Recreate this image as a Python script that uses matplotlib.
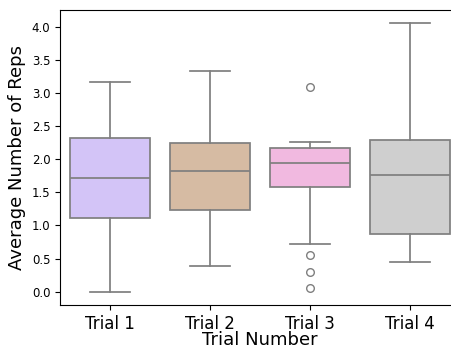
import colorsys
import matplotlib
matplotlib.use("Agg")
from matplotlib import pyplot as plt
from matplotlib import colors as mcolors

# Box statistics
trials = ["Trial 1", "Trial 2", "Trial 3", "Trial 4"]
whisker_low = [0.00, 0.39, 0.72, 0.44]
q1 = [1.12, 1.23, 1.58, 0.87]
medians = [1.72, 1.82, 1.95, 1.76]
q3 = [2.33, 2.25, 2.17, 2.29]
whisker_high = [3.17, 3.33, 2.27, 4.06]
outliers = [[], [], [3.10, 0.56, 0.29, 0.05], []]

# seaborn "pastel" colours 5-8
base_colors = ["#d0bbff", "#debb9b", "#fab0e4", "#cfcfcf"]


def desaturate(c, prop=0.75):
    h, l, s = colorsys.rgb_to_hls(*mcolors.to_rgb(c))
    return colorsys.hls_to_rgb(h, l, s * prop)


stats = []
for i, name in enumerate(trials):
    stats.append(dict(label=name, whislo=whisker_low[i], q1=q1[i], med=medians[i],
                      q3=q3[i], whishi=whisker_high[i], fliers=outliers[i]))

fig = plt.figure(figsize=(4.52, 3.47), dpi=100)
ax = fig.add_axes([60 / 452, 42 / 347, 400 / 452, 295 / 347])

line_col = "#7f7f7f"
bp = ax.bxp(stats, positions=range(len(trials)), widths=0.8, patch_artist=True,
            capwidths=0.4,
            boxprops=dict(edgecolor=line_col, linewidth=1.25),
            whiskerprops=dict(color=line_col, linewidth=1.25),
            capprops=dict(color=line_col, linewidth=1.25),
            medianprops=dict(color=line_col, linewidth=1.25),
            flierprops=dict(marker="o", markerfacecolor="none",
                            markeredgecolor=line_col, markersize=5.5,
                            markeredgewidth=1.0))
for patch, c in zip(bp["boxes"], base_colors):
    patch.set_facecolor(desaturate(c))

ax.set_xlim(-0.5, 3.5)
ax.set_ylim(-0.203, 4.26)
ax.set_yticks([0.0, 0.5, 1.0, 1.5, 2.0, 2.5, 3.0, 3.5, 4.0])
ax.tick_params(axis="y", labelsize=8.5)
ax.tick_params(axis="x", labelsize=12)
ax.set_xlabel("Trial Number", fontsize=13, labelpad=-1)
ax.set_ylabel("Average Number of Reps", fontsize=13)

fig.savefig("out.png", dpi=100)
